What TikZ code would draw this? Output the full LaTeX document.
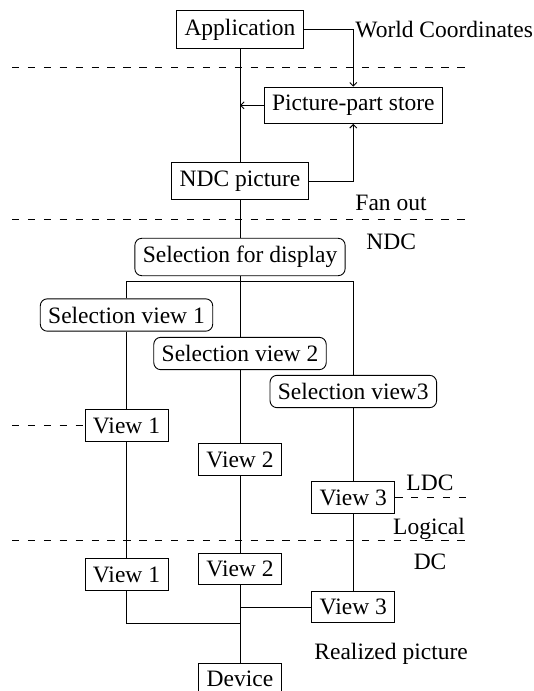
\documentclass[tikz,border=0pt]{standalone}
\usepackage{fontspec}
\setmainfont{Liberation Serif}
\usetikzlibrary{arrows.meta}

\begin{document}
\begin{tikzpicture}[
  x=1pt, y=-1pt,
  line width=0.9pt,
  every node/.style={font=\fontsize{23.5}{28}\selectfont},
  box/.style={draw, inner sep=7.9pt},
  rbox/.style={draw, inner sep=7.9pt, rounded corners=7pt},
  lbl/.style={inner sep=0pt, anchor=base west},
  sep/.style={dash pattern=on 7.3pt off 8.6pt},
  arr/.style={-{Straight Barb[length=3.5pt,width=7pt]}}
]
\useasboundingbox (0,0) rectangle (534,691);

% layer separators
\draw[sep] (12,67.5) -- (468,67.5);
\draw[sep] (12,219) -- (468,219);
\draw[sep] (12,540.5) -- (468,540.5);

% boxes
\node[box] (app) at (240,29.5) {Application};
\node[box] (pps) at (353.3,105.3) {Picture-part store};
\node[box] (ndc) at (240,181) {NDC picture};
\node[rbox] (sfd) at (240,257) {Selection for display};
\node[rbox] (sv1) at (126.5,315) {Selection view 1};
\node[rbox] (sv2) at (240,353.5) {Selection view 2};
\node[rbox] (sv3) at (353.3,391.5) {Selection view3};
\node[box] (va1) at (126.5,425.5) {View 1};
\node[box] (va2) at (240,459.5) {View 2};
\node[box] (va3) at (353.3,497.8) {View 3};
\node[box] (vb1) at (126.5,574.5) {View 1};
\node[box] (vb2) at (240,568.8) {View 2};
\node[box] (vb3) at (353.3,607) {View 3};
\node[box, anchor=north] (dev) at (240,662.5) {Device};

% labels
\node[lbl] (lwc) at (355,37.3) {World Coordinates};
\node[lbl] (lfan) at (355,210) {Fan out};
\node[lbl] (lndc) at (366,249.5) {NDC};
\node[lbl] (lldc) at (406,490) {LDC};
\node[lbl] (llog) at (392.7,534) {Logical};
\node[lbl] (ldc) at (413.3,569) {DC};
\node[lbl] (lreal) at (314,659.5) {Realized picture};

% fork and join points
\coordinate (fork) at (240,281.5);
\coordinate (join1) at (240,623.5);
\coordinate (join3) at (240,607);
\coordinate (sideL) at (12,425.5);
\coordinate (sideR) at (467,497.8);

% main column
\draw (app) -- (ndc);
\draw (ndc) -- (sfd);
\draw (sfd) -- (sv2);
\draw (sv2) -- (va2);
\draw (va2) -- (vb2);
\draw (vb2) -- (dev);

% picture-part store traffic
\draw[arr] (app.east) -| (pps.north);
\draw[arr] (ndc.east) -| (pps.south);
\draw[arr] (pps.west) -- (pps.west -| app.south);

% fan out to the views
\draw (sv1.north) |- (fork) -| (sv3.north);
\draw (sv1) -- (va1);
\draw (va1) -- (vb1);
\draw (sv3) -- (va3);
\draw (va3) -- (vb3);
\draw (vb1.south) |- (join1);
\draw (vb3.west) -- (join3);

% side markers
\draw[sep] (sideL) -- (va1.west);
\draw[sep] (va3.east) -- (sideR);
\end{tikzpicture}
\end{document}
